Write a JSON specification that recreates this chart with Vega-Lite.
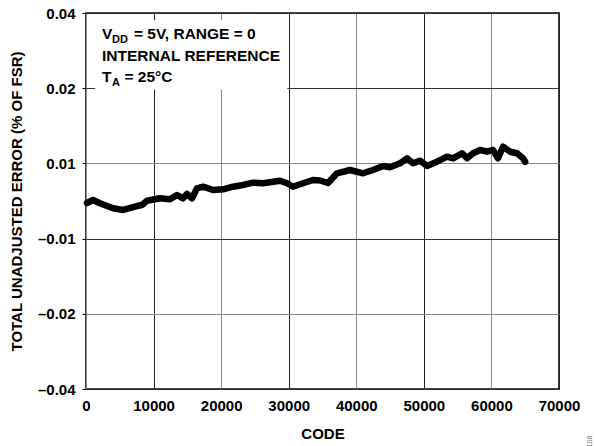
{
  "$schema": "https://vega.github.io/schema/vega-lite/v6.json",
  "autosize": "none",
  "width": 473,
  "height": 376,
  "padding": {"left": 86, "top": 13, "right": 37, "bottom": 57},
  "config": {
    "font": "Liberation Sans",
    "view": {"stroke": "#000", "strokeWidth": 1.5},
    "axis": {"labelFont": "Liberation Sans", "labelFontWeight": "bold", "labelFontSize": 15, "labelColor": "#000",
             "titleFont": "Liberation Sans", "titleFontWeight": "bold", "titleFontSize": 15, "titleColor": "#000",
             "domain": false, "gridWidth": 1, "gridOpacity": 1}
  },
  "datasets": {
    "tue": [
      {"code": 148, "err": -0.00053},
      {"code": 1036, "err": 0.00027},
      {"code": 2072, "err": -0.00061},
      {"code": 3996, "err": -0.00194},
      {"code": 5476, "err": -0.00239},
      {"code": 7548, "err": -0.00133},
      {"code": 8288, "err": -0.00106},
      {"code": 9028, "err": 0.00008},
      {"code": 10952, "err": 0.00072},
      {"code": 12432, "err": 0.00045},
      {"code": 13468, "err": 0.0016},
      {"code": 14356, "err": 0.00072},
      {"code": 14948, "err": 0.00186},
      {"code": 15688, "err": 0.00072},
      {"code": 16428, "err": 0.00338},
      {"code": 17316, "err": 0.0038},
      {"code": 18796, "err": 0.00293},
      {"code": 20276, "err": 0.00311},
      {"code": 21756, "err": 0.0038},
      {"code": 23236, "err": 0.00426},
      {"code": 24716, "err": 0.00487},
      {"code": 26196, "err": 0.00471},
      {"code": 28712, "err": 0.0054},
      {"code": 29748, "err": 0.00471},
      {"code": 30636, "err": 0.0038},
      {"code": 32116, "err": 0.00471},
      {"code": 33596, "err": 0.00559},
      {"code": 34632, "err": 0.00545},
      {"code": 35816, "err": 0.00479},
      {"code": 37148, "err": 0.00737},
      {"code": 39072, "err": 0.00825},
      {"code": 40996, "err": 0.00737},
      {"code": 42476, "err": 0.00825},
      {"code": 43956, "err": 0.00931},
      {"code": 44992, "err": 0.00896},
      {"code": 46472, "err": 0.01003},
      {"code": 47508, "err": 0.01136},
      {"code": 48396, "err": 0.01003},
      {"code": 49432, "err": 0.01072},
      {"code": 50468, "err": 0.00931},
      {"code": 51948, "err": 0.01045},
      {"code": 53428, "err": 0.01178},
      {"code": 54316, "err": 0.01136},
      {"code": 55648, "err": 0.01269},
      {"code": 56388, "err": 0.01136},
      {"code": 57276, "err": 0.01269},
      {"code": 58312, "err": 0.01357},
      {"code": 59348, "err": 0.01311},
      {"code": 60236, "err": 0.01357},
      {"code": 60976, "err": 0.01136},
      {"code": 61716, "err": 0.01444},
      {"code": 62752, "err": 0.01311},
      {"code": 63788, "err": 0.01269},
      {"code": 64676, "err": 0.01136},
      {"code": 65000, "err": 0.01045}
    ]
  },
  "encoding": {
    "x": {"type": "quantitative", "scale": {"domain": [0, 70000], "nice": false}},
    "y": {"type": "quantitative", "scale": {"domain": [-0.05, 0.05], "nice": false}}
  },
  "layer": [
    {
      "data": {"name": "tue"},
      "mark": {"type": "line", "color": "#000", "strokeWidth": 6.5, "strokeJoin": "round", "strokeCap": "round"},
      "encoding": {
        "x": {"field": "code", "type": "quantitative",
              "axis": {"title": "CODE", "values": [0, 10000, 20000, 30000, 40000, 50000, 60000, 70000], "format": "d",
                       "ticks": false, "labelPadding": 9, "titlePadding": 13, "labelFlush": false,
                       "gridColor": {"condition": {"test": "datum.value % 20000 == 0", "value": "#8a8a8a"}, "value": "#222"}}},
        "y": {"field": "err", "type": "quantitative",
              "axis": {"title": "TOTAL UNADJUSTED ERROR (% OF FSR)", "values": [-0.05, -0.03, -0.01, 0.01, 0.03, 0.05],
                       "labelExpr": "{'5':'0.04','3':'0.02','1':'0.01','-1':'–0.01','-3':'–0.02','-5':'–0.04'}[''+round(datum.value*100)]",
                       "ticks": true, "tickSize": 4, "tickColor": "#000", "labelPadding": 7, "titlePadding": 13, "labelFlush": false,
                       "gridColor": {"condition": {"test": "round(datum.value*100) == 1 || round(datum.value*100) == -3", "value": "#8a8a8a"}, "value": "#333"}}}
      }
    },
    {
      "data": {"values": [{}]},
      "mark": {"type": "rect", "fill": "#fff", "stroke": null},
      "encoding": {"x": {"datum": 1332}, "x2": {"datum": 29800}, "y": {"datum": 0.0481}, "y2": {"datum": 0.0296}}
    },
    {
      "data": {"values": [{}]},
      "mark": {"type": "text", "text": "V", "fontSize": 15.5, "fontWeight": "bold", "align": "left", "baseline": "alphabetic", "color": "#000"},
      "encoding": {"x": {"datum": 2368}, "y": {"datum": 0.0431}}
    },
    {
      "data": {"values": [{}]},
      "mark": {"type": "text", "text": "DD", "fontSize": 11, "fontWeight": "bold", "align": "left", "baseline": "alphabetic", "color": "#000"},
      "encoding": {"x": {"datum": 3848}, "y": {"datum": 0.0419}}
    },
    {
      "data": {"values": [{}]},
      "mark": {"type": "text", "text": "= 5V, RANGE = 0", "fontSize": 15.5, "fontWeight": "bold", "align": "left", "baseline": "alphabetic", "color": "#000"},
      "encoding": {"x": {"datum": 7100}, "y": {"datum": 0.0431}}
    },
    {
      "data": {"values": [{}]},
      "mark": {"type": "text", "text": "INTERNAL REFERENCE", "fontSize": 15.5, "fontWeight": "bold", "align": "left", "baseline": "alphabetic", "color": "#000"},
      "encoding": {"x": {"datum": 2368}, "y": {"datum": 0.03724}}
    },
    {
      "data": {"values": [{}]},
      "mark": {"type": "text", "text": "T", "fontSize": 15.5, "fontWeight": "bold", "align": "left", "baseline": "alphabetic", "color": "#000"},
      "encoding": {"x": {"datum": 2368}, "y": {"datum": 0.03165}}
    },
    {
      "data": {"values": [{}]},
      "mark": {"type": "text", "text": "A", "fontSize": 11, "fontWeight": "bold", "align": "left", "baseline": "alphabetic", "color": "#000"},
      "encoding": {"x": {"datum": 3848}, "y": {"datum": 0.0305}}
    },
    {
      "data": {"values": [{}]},
      "mark": {"type": "text", "text": "= 25°C", "fontSize": 15.5, "fontWeight": "bold", "align": "left", "baseline": "alphabetic", "color": "#000"},
      "encoding": {"x": {"datum": 5700}, "y": {"datum": 0.03165}}
    },
    {
      "data": {"values": [{}]},
      "mark": {"type": "text", "text": "108", "fontSize": 7, "angle": 270, "align": "left", "baseline": "middle", "color": "#777"},
      "encoding": {"x": {"datum": 74600}, "y": {"datum": -0.0655}}
    }
  ]
}
